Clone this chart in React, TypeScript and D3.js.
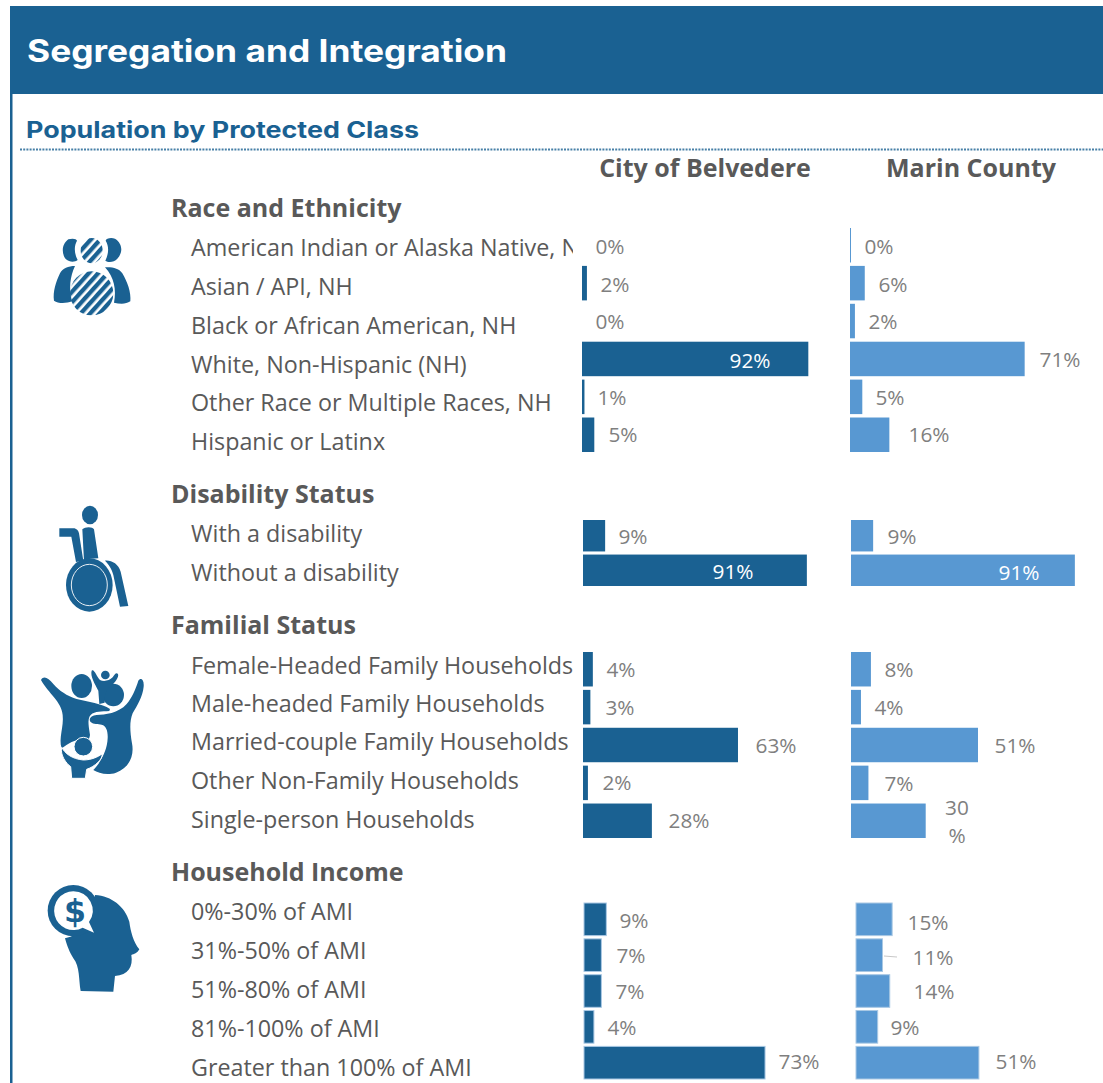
import React from "react";
import * as d3 from "d3";

const raceCategories = ["American Indian or Alaska Native, NH", "Asian / API, NH", "Black or African American, NH", "White, Non-Hispanic (NH)", "Other Race or Multiple Races, NH", "Hispanic or Latinx"];
const raceBelvedere = [0, 2, 0, 92, 1, 5];
const raceMarin = [0.4, 6, 2, 71, 5, 16];
const disabilityCategories = ["With a disability", "Without a disability"];
const disabilityBelvedere = [9, 91];
const disabilityMarin = [9, 91];
const familialCategories = ["Female-Headed Family Households", "Male-headed Family Households", "Married-couple Family Households", "Other Non-Family Households", "Single-person Households"];
const familialBelvedere = [4, 3, 63, 2, 28];
const familialMarin = [8, 4, 51, 7, 30];
const incomeCategories = ["0%-30% of AMI", "31%-50% of AMI", "51%-80% of AMI", "81%-100% of AMI", "Greater than 100% of AMI"];
const incomeBelvedere = [9, 7, 7, 4, 73];
const incomeMarin = [15, 11, 14, 9, 51];

const DARK = "#1a6192";
const LIGHT = "#5898d2";
const GREY_LABEL = "#7f7f7f";
const TEXT = "#595959";
const BODY = "'Open Sans', sans-serif";
const HEAD = "'Inter', sans-serif";

type PanelSpec = {
  title: string; cats: string[]; a: number[]; b: number[];
  top: number; bottom: number; labelYs: number[]; headY: number;
  x0a: number; x0b: number; ka: number; kb: number;
  aLabel: [number, number][]; bLabel: [number, number][];
  edge?: string;
};

const panels: PanelSpec[] = [
  {
    title: "Race and Ethnicity", cats: raceCategories, a: raceBelvedere, b: raceMarin,
    top: 228, bottom: 452, headY: 207, labelYs: [247, 286, 325, 364, 402, 441],
    x0a: 582, x0b: 850, ka: 246, kb: 246,
    aLabel: [[610, 246], [615, 284], [610, 321], [750, 360], [612, 397], [623, 434]],
    bLabel: [[879, 246], [893, 284], [883, 321], [1060, 359], [890, 397], [929, 434]],
  },
  {
    title: "Disability Status", cats: disabilityCategories, a: disabilityBelvedere, b: disabilityMarin,
    top: 520, bottom: 586, headY: 493, labelYs: [533, 572],
    x0a: 583, x0b: 851, ka: 246, kb: 246,
    aLabel: [[633, 536], [733, 571]],
    bLabel: [[902, 536], [1019, 572]],
  },
  {
    title: "Familial Status", cats: familialCategories, a: familialBelvedere, b: familialMarin,
    top: 652, bottom: 838, headY: 624, labelYs: [665, 703, 741, 780, 819],
    x0a: 583, x0b: 851, ka: 246, kb: 249,
    aLabel: [[621, 669], [620, 707], [776, 745], [617, 782], [689, 820]],
    bLabel: [[899, 669], [889, 707], [1015, 745], [899, 783], [957, 807]],
  },
  {
    title: "Household Income", cats: incomeCategories, a: incomeBelvedere, b: incomeMarin,
    top: 903, bottom: 1079, headY: 871, labelYs: [911, 950, 989, 1028, 1067],
    x0a: 584, x0b: 856, ka: 248, kb: 241, edge: "#a9c8e4",
    aLabel: [[634, 920], [631, 955], [630, 991], [622, 1027], [799, 1061]],
    bLabel: [[928, 922], [933, 957], [934, 991], [905, 1027], [1016, 1061]],
  },
];

function Bars({ p, values, x0, k, fill, labels, tone }: { p: PanelSpec; values: number[]; x0: number; k: number; fill: string; labels: [number, number][]; tone: string }) {
  const x = d3.scaleLinear().domain([0, 100]).range([x0, x0 + k]);
  const y = d3.scaleBand<string>().domain(p.cats).range([p.top, p.bottom]).paddingInner(0.09);
  const fs = 20.8;
  return (
    <g>
      {p.cats.map((c, i) => {
        const v = values[i];
        const w = x(v) - x0;
        const shown = Math.round(v);
        const white = shown >= 90;
        const split = tone === "b" && shown === 30;
        return (
          <g key={c}>
            {v > 0 && (
              <rect x={x0} y={y(c)} width={Math.max(w, 1)} height={y.bandwidth()} fill={fill}
                stroke={p.edge ?? "none"} strokeWidth={p.edge ? 1 : 0} />
            )}
            {split ? (
              <>
                <text x={labels[i][0]} y={labels[i][1]} fontFamily={BODY} fontSize={fs} fill={GREY_LABEL} textAnchor="middle" dominantBaseline="central">{shown}</text>
                <text x={labels[i][0]} y={labels[i][1] + 28} fontFamily={BODY} fontSize={fs} fill={GREY_LABEL} textAnchor="middle" dominantBaseline="central">%</text>
              </>
            ) : (
              <text x={labels[i][0]} y={labels[i][1]} fontFamily={BODY} fontSize={fs} fill={white ? "#ffffff" : GREY_LABEL} textAnchor="middle" dominantBaseline="central">{shown}%</text>
            )}
          </g>
        );
      })}
    </g>
  );
}

function PeopleIcon() {
  return (
    <g transform="translate(40,230) scale(0.3333)">
      <defs>
        <pattern id="stripes" width="21" height="21" patternUnits="userSpaceOnUse" patternTransform="rotate(42)">
          <rect width="13" height="21" fill={DARK} />
        </pattern>
      </defs>
      <ellipse cx={155} cy={62} rx={33} ry={38} fill="url(#stripes)" />
      <ellipse cx={155} cy={190} rx={65} ry={66} fill="url(#stripes)" />
      <path d="M85,28 C97,24 110,26 111,32 C102,48 102,70 113,90 C105,97 88,97 78,88 C66,75 62,45 85,28 Z" fill={DARK} />
      <path d="M225,26 C213,22 198,25 197,32 C207,48 207,70 196,92 C205,98 222,97 232,86 C248,70 250,42 225,26 Z" fill={DARK} />
      <path d="M105,108 C85,108 68,115 60,130 C48,155 38,185 42,212 C55,222 80,220 96,214 C86,175 90,140 105,108 Z" fill={DARK} />
      <path d="M195,112 C215,110 238,115 247,130 C262,155 274,188 271,214 C258,223 240,222 222,218 C230,180 222,140 195,112 Z" fill={DARK} />
    </g>
  );
}

function WheelchairIcon() {
  return (
    <g transform="translate(30,490) scale(0.3333)">
      <ellipse cx={180} cy={75} rx={24} ry={28} fill={DARK} />
      <path d="M157,118 C165,110 188,110 192,118 L205,205 C190,205 172,207 162,212 Z" fill={DARK} />
      <path d="M88,115 L130,115 C140,115 145,122 147,130 L160,212 L138,216 L124,140 L88,140 Z" fill={DARK} />
      <ellipse cx={178} cy={285} rx={70} ry={80} fill={DARK} />
      <ellipse cx={178} cy={285} rx={54} ry={62} fill="none" stroke="#e8eef3" strokeWidth={3} />
      <path d="M225,212 C245,210 265,222 272,245 L295,348 L270,350 L250,255 C245,235 235,222 225,212 Z" fill={DARK} />
    </g>
  );
}

function FamilyIcon() {
  return (
    <g transform="translate(30,660) scale(0.3333)" fill={DARK}>
      <ellipse cx={155} cy={78} rx={31} ry={36} />
      <ellipse cx={250} cy={105} rx={32} ry={34} />
      <circle cx={226} cy={45} r={13} />
      <path d="M185,32 C192,24 200,50 210,60 C222,66 238,62 248,52 C254,44 258,36 264,42 C268,50 254,70 243,78 C226,90 224,105 224,128 L208,132 L205,92 C195,72 180,48 185,32 Z" />
      <path d="M33,60 C42,45 55,55 70,72 C88,92 110,108 140,117 C175,126 215,130 240,147 L238,153 C215,155 195,152 182,165 C170,178 178,205 180,225 C178,240 172,245 165,238 C140,235 115,250 95,265 C85,235 102,200 98,165 C95,125 55,100 33,60 Z" stroke="none" />
      <path d="M325,62 C332,52 343,58 341,80 C338,110 322,135 308,160 C298,185 300,215 306,250 C314,290 295,325 258,338 C232,347 205,340 190,330 C212,308 232,270 233,235 C234,215 230,198 215,194 C205,192 190,194 182,186 C174,176 185,166 200,165 C225,164 265,160 290,132 C305,115 318,85 325,62 Z" />
      <circle cx={160} cy={260} r={28} stroke="#fff" strokeWidth={3} />
      <path d="M95,262 C105,280 125,297 160,300 C185,300 205,290 216,282 C220,296 195,320 170,328 L166,355 L125,355 L122,320 C108,310 90,285 95,262 Z" stroke="#fff" strokeWidth={3} />
    </g>
  );
}

function MoneyHeadIcon() {
  return (
    <g transform="translate(30,860) scale(0.3333)">
      <path d="M195,105 C245,108 285,140 298,185 C302,215 310,245 328,268 C322,280 312,282 304,285 C310,320 295,345 255,348 L250,395 L152,393 C146,360 150,320 130,295 C118,275 112,260 105,235 C150,225 190,190 195,105 Z" fill={DARK} />
      <circle cx={130} cy={152} r={77} fill={DARK} />
      <path d="M130,94 A58,58 0 0 1 177,186 L192,218 L158,203 A58,58 0 1 1 130,94 Z" fill="#ffffff" />
      <text x={135} y={152} textAnchor="middle" dominantBaseline="central" fontFamily="'DejaVu Sans', sans-serif" fontWeight={700} fontSize={95} fill={DARK}>$</text>
    </g>
  );
}

export default function App() {
  return (
    <svg width={1103} height={1083} style={{ position: "absolute", left: 0, top: 0, background: "#fff" }}>
      <defs>
        <clipPath id="labelClip"><rect x={170} y={220} width={403} height={240} /></clipPath>
        <clipPath id="labelClip2"><rect x={170} y={640} width={405} height={210} /></clipPath>
      </defs>
      <rect x={10} y={6} width={1093} height={88} fill={DARK} />
      <rect x={10} y={94} width={2.5} height={989} fill={DARK} />
      <text x={27} y={50} fontFamily={HEAD} fontWeight={700} fontSize={31} fill="#fff" dominantBaseline="central" textLength={480} lengthAdjust="spacingAndGlyphs">Segregation and Integration</text>
      <text x={26} y={130} fontFamily={HEAD} fontWeight={700} fontSize={23} fill={DARK} dominantBaseline="central" textLength={393} lengthAdjust="spacingAndGlyphs">Population by Protected Class</text>
      <line x1={20} x2={1103} y1={149.5} y2={149.5} stroke={DARK} strokeWidth={2} strokeDasharray="2 1.2" opacity={0.8} />

      <text x={705} y={167} fontFamily={BODY} fontWeight={700} fontSize={25} fill={TEXT} textAnchor="middle" dominantBaseline="central">City of Belvedere</text>
      <text x={971} y={167} fontFamily={BODY} fontWeight={700} fontSize={25} fill={TEXT} textAnchor="middle" dominantBaseline="central">Marin County</text>

      <PeopleIcon />
      <WheelchairIcon />
      <FamilyIcon />
      <MoneyHeadIcon />

      {panels.map((p, pi) => (
        <g key={p.title}>
          <text x={171} y={p.headY} fontFamily={BODY} fontWeight={700} fontSize={25} fill={TEXT} dominantBaseline="central">{p.title}</text>
          <g clipPath={pi === 0 ? "url(#labelClip)" : pi === 2 ? "url(#labelClip2)" : undefined}>
            {p.cats.map((c, i) => (
              <text key={c} x={191} y={p.labelYs[i]} fontFamily={BODY} fontSize={23.3} fill={TEXT} dominantBaseline="central">{c}</text>
            ))}
          </g>
          <Bars p={p} values={p.a} x0={p.x0a} k={p.ka} fill={DARK} labels={p.aLabel} tone="a" />
          <Bars p={p} values={p.b} x0={p.x0b} k={p.kb} fill={LIGHT} labels={p.bLabel} tone="b" />
        </g>
      ))}
      <line x1={884} x2={897} y1={956} y2={957} stroke="#c8c8c8" strokeWidth={1} />
    </svg>
  );
}
